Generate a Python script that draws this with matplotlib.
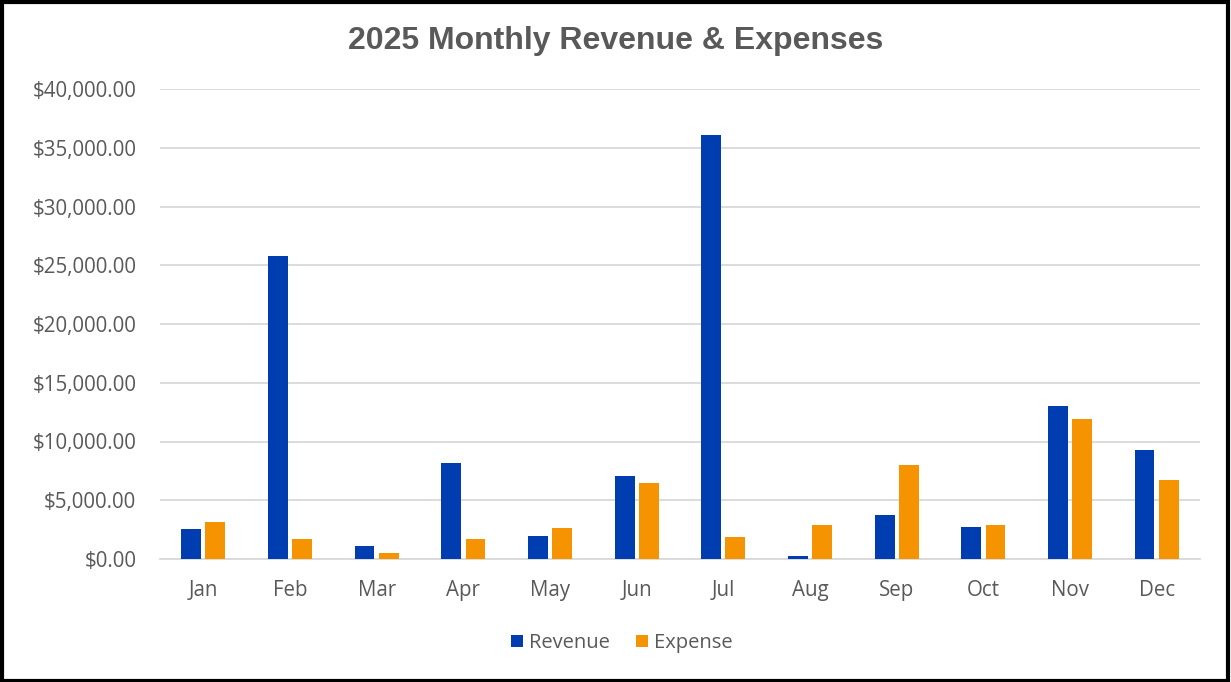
import matplotlib.pyplot as plt
import numpy as np
from matplotlib.ticker import FuncFormatter
from matplotlib.patches import Rectangle

months = ['Jan', 'Feb', 'Mar', 'Apr', 'May', 'Jun', 'Jul', 'Aug', 'Sep', 'Oct', 'Nov', 'Dec']
revenue = [2560, 25800, 1130, 8190, 1960, 7080, 36050, 260, 3730, 2700, 13050, 9270]
expense = [3120, 1730, 510, 1730, 2670, 6510, 1900, 2900, 8000, 2900, 11950, 6710]

plt.rcParams['font.family'] = ['Open Sans', 'DejaVu Sans']
grey = '#595959'

fig = plt.figure(figsize=(12.31, 6.82), dpi=100)
ax = fig.add_axes([160 / 1231, 1 - 559 / 682, 1040 / 1231, 470 / 682])

x = np.arange(len(months))
w = 0.23
ax.bar(x - 0.14, revenue, w, color='#003DB0', label='Revenue', zorder=3)
ax.bar(x + 0.14, expense, w, color='#F59300', label='Expense', zorder=3)

ax.set_xlim(-0.5, 11.5)
ax.set_ylim(0, 40000)
ax.set_yticks(np.arange(0, 40001, 5000))
ax.yaxis.set_major_formatter(FuncFormatter(lambda v, p: '${:,.2f}'.format(v)))
ax.set_xticks(x)
ax.set_xticklabels(months)
ax.tick_params(axis='both', length=0, labelsize=14.8, colors=grey)
ax.tick_params(axis='y', pad=17)
ax.tick_params(axis='x', pad=15)
ax.grid(axis='y', color='#d9d9d9', linewidth=1.3, zorder=0)
for s in ['top', 'right', 'left']:
    ax.spines[s].set_visible(False)
ax.spines['bottom'].set_color('#d9d9d9')
ax.spines['bottom'].set_linewidth(1.3)

fig.text(616 / 1231, 1 - 41 / 682, '2025 Monthly Revenue & Expenses', ha='center', va='center',
         fontsize=23, fontweight='bold', color=grey, family=['Liberation Sans', 'DejaVu Sans'])

fig.legend(loc='center', bbox_to_anchor=(622 / 1231, 1 - 643 / 682), ncol=2, frameon=False,
           fontsize=14.5, labelcolor=grey, handlelength=0.6, handleheight=0.6,
           handletextpad=0.3, columnspacing=1.3)

fig.patches.append(Rectangle((0.0015, 0.002), 0.996, 0.995, transform=fig.transFigure,
                             fill=False, edgecolor='black', linewidth=3))

fig.savefig('out.png', dpi=100)
